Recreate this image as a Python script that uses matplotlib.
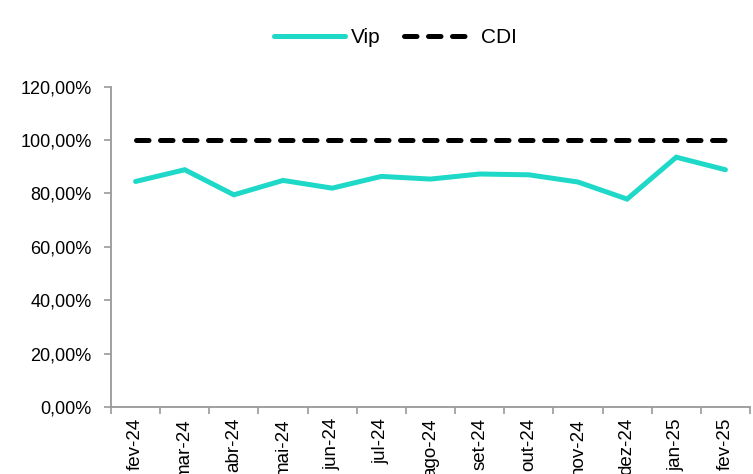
import matplotlib.pyplot as plt
from matplotlib.ticker import FuncFormatter

# Rentabilidade mensal do fundo em % do CDI
meses = ["fev-24", "mar-24", "abr-24", "mai-24", "jun-24", "jul-24", "ago-24",
         "set-24", "out-24", "nov-24", "dez-24", "jan-25", "fev-25"]
vip = [84.5, 88.9, 79.5, 84.9, 82.0, 86.4, 85.4, 87.3, 87.0, 84.3, 77.9, 93.6, 88.9]
cdi = [100.0] * len(meses)

plt.rcParams['font.family'] = ['Liberation Sans', 'DejaVu Sans']

fig = plt.figure(figsize=(7.53, 4.74), dpi=100)
ax = fig.add_axes([0.1474, 0.1414, 0.8486, 0.6756])

x = list(range(len(meses)))
ax.plot(x, vip, color='#1ED8C8', lw=3.6, solid_capstyle='round',
        solid_joinstyle='miter', label='Vip')
ax.plot(x, cdi, color='black', lw=3.6, dashes=(2.5, 2.3),
        dash_capstyle='round', label='CDI')

ax.set_ylim(0, 120)
ax.set_xlim(-0.5, len(meses) - 0.5)
ax.set_yticks(range(0, 121, 20))
ax.yaxis.set_major_formatter(FuncFormatter(lambda v, p: f"{v:.2f}%".replace('.', ',')))

ax.set_xticks(x)
ax.set_xticklabels(meses, rotation=90, va='top', ha='center')
ax.set_xticks([i - 0.5 for i in range(len(meses) + 1)], minor=True)
ax.tick_params(axis='x', which='major', length=0, pad=8, labelsize=13.5)
ax.tick_params(axis='x', which='minor', length=5, color='#999999', width=1.2)
ax.tick_params(axis='y', length=5, color='#999999', width=1.2, pad=9, labelsize=13)

for lado in ['top', 'right']:
    ax.spines[lado].set_visible(False)
for lado in ['left', 'bottom']:
    ax.spines[lado].set_color('#999999')
    ax.spines[lado].set_linewidth(1.3)

fig.legend(loc='center', bbox_to_anchor=(0.525, 0.92), ncol=2, frameon=False,
           fontsize=15, handlelength=3.4, columnspacing=1.1, handletextpad=0.3)

plt.savefig('out.png', dpi=100)
